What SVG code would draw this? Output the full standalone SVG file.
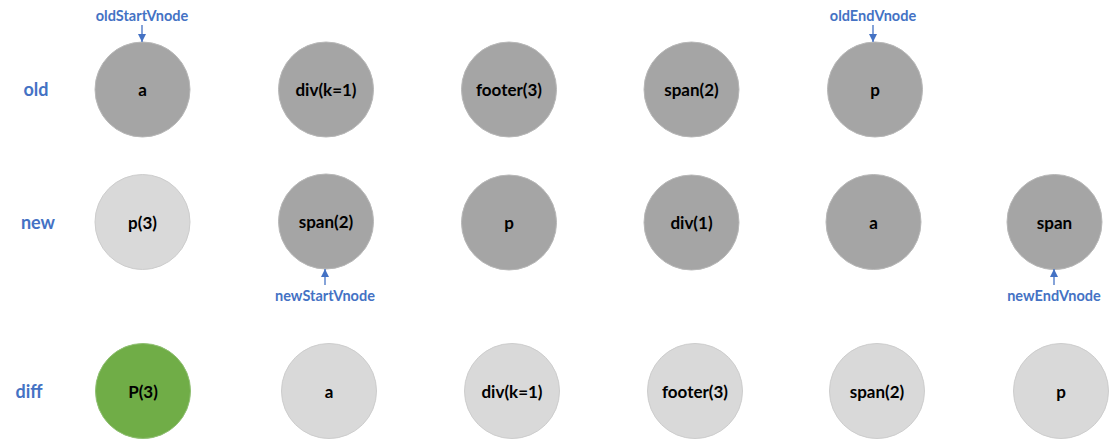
<svg xmlns="http://www.w3.org/2000/svg" width="1114" height="440" viewBox="0 0 1114 440">
<style>
.dk{fill:#A5A5A5;stroke:#B8B8B8;stroke-width:1}
.lt{fill:#D9D9D9;stroke:#CDCDCD;stroke-width:1}
.gr{fill:#70AD47;stroke:#8FBF72;stroke-width:1}
.t{font-family:Lato,"Liberation Sans",sans-serif;font-weight:bold;font-size:17px;fill:#000;text-anchor:middle;dominant-baseline:central}
.row{font-family:Lato,"Liberation Sans",sans-serif;font-weight:bold;font-size:18px;fill:#4472C4;text-anchor:middle;dominant-baseline:central}
.ptr{font-family:Lato,"Liberation Sans",sans-serif;font-weight:bold;font-size:14.5px;fill:#4472C4;text-anchor:middle;dominant-baseline:central}
.ar{stroke:#4472C4;stroke-width:1.3;fill:none;marker-end:url(#ah)}
</style>
<defs>
<marker id="ah" viewBox="0 0 10 10" refX="10" refY="5" markerWidth="8" markerHeight="8" markerUnits="userSpaceOnUse" orient="auto">
<path d="M0,0 L10,5 L0,10 z" fill="#4472C4"/>
</marker>
</defs>
<rect width="1114" height="440" fill="#fff"/>
<g id="labels">
<text class="row" x="36" y="89">old</text>
<text class="row" x="38" y="222">new</text>
<text class="row" x="29" y="391">diff</text>
<text class="ptr" x="142" y="15">oldStartVnode</text>
<text class="ptr" x="873" y="15">oldEndVnode</text>
<text class="ptr" x="325" y="295">newStartVnode</text>
<text class="ptr" x="1054" y="295">newEndVnode</text>
</g>
<g id="old-a"><circle class="dk" cx="142.5" cy="89.5" r="47.5"/><text class="t" x="142.5" y="89.5">a</text></g>
<g id="old-div"><circle class="dk" cx="326" cy="89.5" r="47.5"/><text class="t" x="326" y="89.5">div(k=1)</text></g>
<g id="old-footer"><circle class="dk" cx="509" cy="89.5" r="47.5"/><text class="t" x="509" y="89.5">footer(3)</text></g>
<g id="old-span"><circle class="dk" cx="691.5" cy="89.5" r="47.5"/><text class="t" x="691.5" y="89.5">span(2)</text></g>
<g id="old-p"><circle class="dk" cx="875" cy="89.5" r="47.5"/><text class="t" x="875" y="89.5">p</text></g>

<g id="new-p3"><circle class="lt" cx="142.5" cy="222" r="47.5"/><text class="t" x="142.5" y="222">p(3)</text></g>
<g id="new-span2"><circle class="dk" cx="326" cy="221.5" r="47.5"/><text class="t" x="326" y="221.5">span(2)</text></g>
<g id="new-p"><circle class="dk" cx="509" cy="222.5" r="47.5"/><text class="t" x="509" y="222.5">p</text></g>
<g id="new-div1"><circle class="dk" cx="691.5" cy="222.5" r="47.5"/><text class="t" x="691.5" y="222.5">div(1)</text></g>
<g id="new-a"><circle class="dk" cx="873.5" cy="222" r="47.5"/><text class="t" x="873.5" y="222">a</text></g>
<g id="new-span"><circle class="dk" cx="1054.5" cy="222" r="47.5"/><text class="t" x="1054.5" y="222">span</text></g>

<g id="diff-P3"><circle class="gr" cx="143" cy="391" r="47.5"/><text class="t" x="143" y="391">P(3)</text></g>
<g id="diff-a"><circle class="lt" cx="329" cy="391" r="47.5"/><text class="t" x="329" y="391">a</text></g>
<g id="diff-div"><circle class="lt" cx="512" cy="391" r="47.5"/><text class="t" x="512" y="391">div(k=1)</text></g>
<g id="diff-footer"><circle class="lt" cx="695" cy="391" r="47.5"/><text class="t" x="695" y="391">footer(3)</text></g>
<g id="diff-span"><circle class="lt" cx="877" cy="391" r="47.5"/><text class="t" x="877" y="391">span(2)</text></g>
<g id="diff-p"><circle class="lt" cx="1061" cy="391" r="47.5"/><text class="t" x="1061" y="391">p</text></g>

<g id="connectors">
<line class="ar" x1="142" y1="25" x2="142" y2="42"/>
<line class="ar" x1="873" y1="25" x2="873" y2="42"/>
<line class="ar" x1="325" y1="285" x2="325" y2="269"/>
<line class="ar" x1="1054" y1="285" x2="1054" y2="269"/>
</g>
</svg>
